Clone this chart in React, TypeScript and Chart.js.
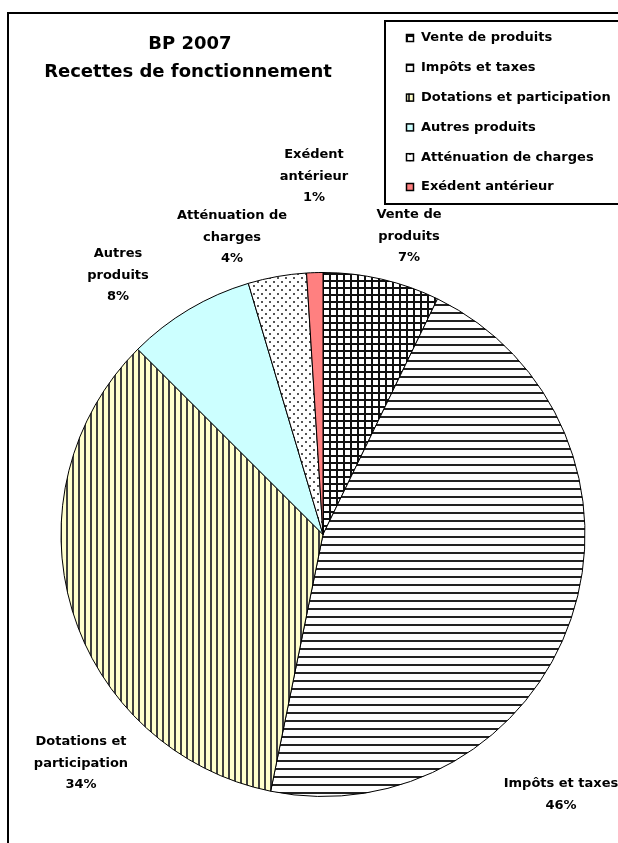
import { useEffect, useRef } from 'react';
import { Chart, registerables } from 'chart.js';

Chart.register(...registerables);

const categories = [
  'Vente de produits',
  'Impôts et taxes',
  'Dotations et participation',
  'Autres produits',
  'Atténuation de charges',
  'Exédent antérieur',
];
const values = [7.2, 46.0, 34.3, 7.9, 3.6, 1.0];
const labelLines = [
  ['Vente de', 'produits'],
  ['Impôts et taxes'],
  ['Dotations et', 'participation'],
  ['Autres', 'produits'],
  ['Atténuation de', 'charges'],
  ['Exédent', 'antérieur'],
];
const titleLines = ['BP 2007', 'Recettes de fonctionnement'];

// layout (not data)
const LABEL_ANCHORS = [
  [409, 215],
  [561, 784],
  [81, 742],
  [118, 254],
  [232, 216],
  [314, 155],
];

function makePattern(w: number, h: number, draw: (c: CanvasRenderingContext2D) => void) {
  const cv = document.createElement('canvas');
  cv.width = w;
  cv.height = h;
  const c = cv.getContext('2d')!;
  draw(c);
  return c.createPattern(cv, 'repeat')!;
}

function buildFills(): (CanvasPattern | string)[] {
  const grid = makePattern(7, 7, (c) => {
    c.fillStyle = '#ffffff';
    c.fillRect(0, 0, 7, 7);
    c.fillStyle = '#111111';
    c.fillRect(0, 0, 7, 2);
    c.fillRect(0, 0, 2, 7);
  });
  const hlines = makePattern(8, 8, (c) => {
    c.fillStyle = '#ffffff';
    c.fillRect(0, 0, 8, 8);
    c.fillStyle = '#222222';
    c.fillRect(0, 0, 8, 2);
  });
  const vlines = makePattern(6, 6, (c) => {
    c.fillStyle = '#ffffcc';
    c.fillRect(0, 0, 6, 6);
    c.fillStyle = '#404040';
    c.fillRect(0, 0, 2, 6);
  });
  const dots = makePattern(8, 8, (c) => {
    c.fillStyle = '#ffffff';
    c.fillRect(0, 0, 8, 8);
    c.fillStyle = '#555555';
    c.fillRect(1, 1, 2, 2);
    c.fillRect(5, 5, 2, 2);
  });
  return [grid, hlines, vlines, '#ccffff', dots, '#ff8080'];
}

const decorPlugin = {
  id: 'decor',
  beforeDraw(chart: any) {
    const ctx: CanvasRenderingContext2D = chart.ctx;
    ctx.save();
    ctx.fillStyle = '#ffffff';
    ctx.fillRect(0, 0, chart.width, chart.height);
    ctx.strokeStyle = '#000000';
    ctx.lineWidth = 2;
    ctx.strokeRect(8, 13, 700, 900);
    ctx.restore();
  },
  afterDraw(chart: any) {
    const ctx: CanvasRenderingContext2D = chart.ctx;
    const ds = chart.data.datasets[0];
    const total = ds.data.reduce((a: number, b: number) => a + b, 0);
    ctx.save();
    ctx.fillStyle = '#000000';
    ctx.textAlign = 'center';
    ctx.textBaseline = 'middle';
    // title
    ctx.font = 'bold 18px "DejaVu Sans"';
    ctx.fillText(titleLines[0], 190, 44);
    ctx.fillText(titleLines[1], 188, 72);
    // data labels
    ctx.font = 'bold 13px "DejaVu Sans"';
    ds.data.forEach((v: number, i: number) => {
      const lines = [...labelLines[i], Math.round((v / total) * 100) + '%'];
      const [x, y] = LABEL_ANCHORS[i];
      lines.forEach((t, k) => ctx.fillText(t, x, y + k * 21.5));
    });
    // legend
    ctx.lineWidth = 2;
    ctx.strokeStyle = '#000000';
    ctx.strokeRect(385, 21, 260, 183);
    ctx.textAlign = 'left';
    ctx.font = 'bold 13px "DejaVu Sans"';
    chart.data.labels.forEach((lab: string, i: number) => {
      const y = 38 + i * 29.8;
      ctx.fillStyle = ds.backgroundColor[i];
      ctx.fillRect(406, y - 4, 8, 8);
      ctx.lineWidth = 1.5;
      ctx.strokeRect(406.5, y - 3.5, 7, 7);
      ctx.fillStyle = '#000000';
      ctx.fillText(lab, 421, y);
    });
    ctx.restore();
  },
};

export default function App() {
  const ref = useRef<HTMLCanvasElement>(null);
  useEffect(() => {
    if (!ref.current) return;
    const fills = buildFills();
    const chart = new Chart(ref.current, {
      type: 'pie',
      data: {
        labels: categories,
        datasets: [
          {
            data: values,
            backgroundColor: fills as any,
            borderColor: '#000000',
            borderWidth: 1,
          },
        ],
      },
      options: {
        animation: false,
        responsive: true,
        maintainAspectRatio: false,
        layout: { padding: { left: 60, right: 32, top: 272, bottom: 46 } },
        plugins: {
          legend: { display: false },
          tooltip: { enabled: false },
          title: { display: false },
        },
      },
      plugins: [decorPlugin],
    });
    return () => chart.destroy();
  }, []);
  return (
    <div style={{ position: 'fixed', left: 0, top: 0, width: 618, height: 843, background: '#fff' }}>
      <canvas ref={ref} />
    </div>
  );
}
